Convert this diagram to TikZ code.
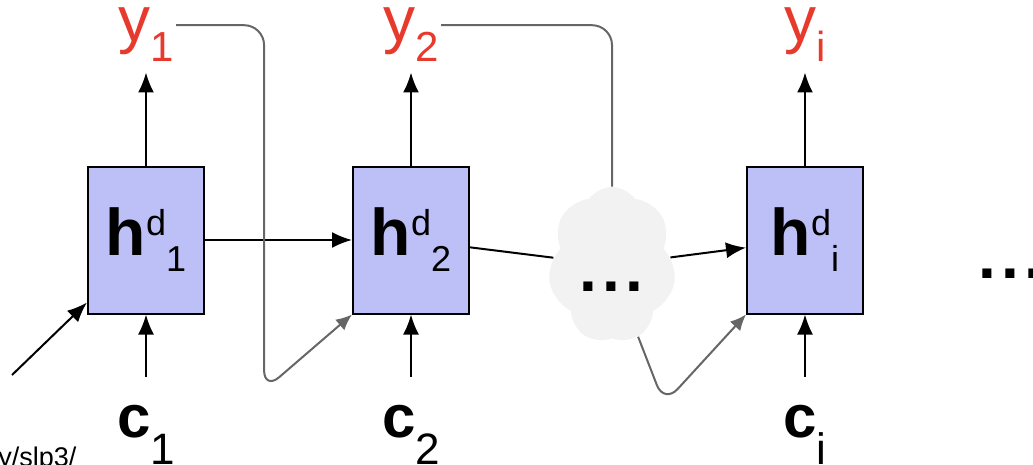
\documentclass[tikz,border=0pt]{standalone}
\usepackage{fontspec}
\setmainfont{Liberation Sans}
\usepackage{tikz}
\usetikzlibrary{positioning, arrows.meta, shapes.symbols}
\definecolor{boxblue}{HTML}{BDBFF7}
\definecolor{outred}{HTML}{E8392D}
\definecolor{loopgrey}{HTML}{666666}
\definecolor{cloudgrey}{HTML}{F2F2F2}

\newcommand{\hdec}[1]{{\fontsize{33}{33}\selectfont\bfseries h}\raisebox{10pt}{\fontsize{18}{18}\selectfont d}\raisebox{-8pt}{\fontsize{18}{18}\selectfont #1}}
\newcommand{\yout}[1]{{\fontsize{32}{32}\selectfont y}\raisebox{-10pt}{\fontsize{21}{21}\selectfont #1}}
\newcommand{\cin}[1]{{\fontsize{30}{30}\selectfont\bfseries c}\raisebox{-13.5pt}{\fontsize{22}{22}\selectfont #1}}
\newcommand{\moredots}{{\fontsize{32}{32}\selectfont\bfseries .\kern2.6pt.\kern2.6pt.}}

\begin{document}
\begin{tikzpicture}[x=0.5pt, y=-0.5pt,
    decbox/.style={fill=boxblue, draw=black, line width=1pt, minimum width=58pt,
                   minimum height=73.5pt, inner sep=0pt},
    lab/.style={inner sep=0pt},
    flow/.style={-{Latex[length=10pt,width=8pt]}, line width=1pt},
    loop/.style={-{Latex[length=8pt,width=7pt]}, draw=loopgrey, line width=1pt, rounded corners=10pt}]
  \useasboundingbox (0,0) rectangle (1033,465);

  % decoder states
  \node[decbox] (h1) at (146,240) {\hdec{1}};
  \node[decbox] (h2) at (411,240) {\hdec{2}};
  \node[decbox] (hi) at (805,240) {\hdec{i}};
  \node[cloud, cloud puffs=7, cloud puff arc=110, fill=cloudgrey, minimum width=64pt,
        minimum height=78pt, aspect=0.8] (cloud) at (612,265) {};
  \node[lab] (cdots) at (611,287) {\moredots};
  \node[lab] (more) at (1010,274) {\moredots};

  % outputs and contexts
  \node[lab, text=outred, above=52pt of h1] (y1) {\yout{1}};
  \node[lab, text=outred, above=52pt of h2] (y2) {\yout{2}};
  \node[lab, text=outred, above=52pt of hi] (yi) {\yout{i}};
  \node[lab, below=45pt of h1] (c1) {\cin{1}};
  \node[lab, below=45pt of h2] (c2) {\cin{2}};
  \node[lab, below=45pt of hi] (ci) {\cin{i}};

  \coordinate (init) at (12,375);
  \node[lab, anchor=base west, font=\fontsize{13.5}{13.5}\selectfont] (src) at (-2,466) {y/slp3/};

  \draw[flow, shorten >=5.5pt] (h1) -- (y1);
  \draw[flow, shorten >=5.5pt] (h2) -- (y2);
  \draw[flow, shorten >=5.5pt] (hi) -- (yi);
  \draw[flow, shorten <=14pt] (c1) -- (h1);
  \draw[flow, shorten <=14pt] (c2) -- (h2);
  \draw[flow, shorten <=14pt] (ci) -- (hi);

  \draw[flow] (h1) -- (h2);
  \draw[line width=1pt] (h2) -- (cloud);
  \draw[flow] (cloud) -- (hi);
  \draw[flow] (init) -- ([yshift=6pt]h1.south west);

  % feeding outputs back in
  \draw[loop] ([xshift=1pt,yshift=4.5pt]y1.east) -- ++(88,0) -- ++(0,365) -- (h2.south west);
  \draw[loop, -] ([xshift=1pt,yshift=4.5pt]y2.east) -| (cloud.north);
  \draw[loop] (cloud.-70) -- ++(26,67) -- (hi.south west);
\end{tikzpicture}
\end{document}
